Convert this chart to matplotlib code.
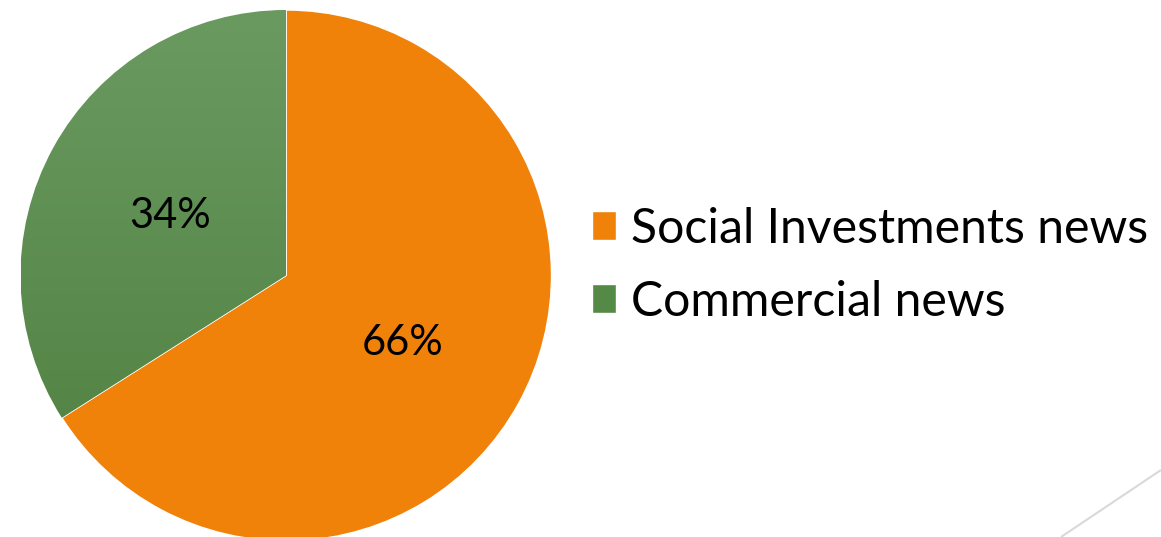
import numpy as np
import matplotlib.pyplot as plt
from matplotlib.colors import LinearSegmentedColormap

labels = ['Social Investments news', 'Commercial news']
shares = [66, 34]
colors = ['#F0820A', '#558A46']

plt.rcParams['font.family'] = ['Lato', 'DejaVu Sans']

W, H = 1161, 537
fig = plt.figure(figsize=(W / 100, H / 100), dpi=100)
ax = fig.add_axes([0, 0, 1, 1])

cx, cy, r = 286, H - 275.5, 265.5
wedges, texts, autotexts = ax.pie(
    shares, colors=colors, startangle=90, counterclock=False,
    center=(cx, cy), radius=r, autopct='%d%%', pctdistance=0.5,
    wedgeprops=dict(edgecolor='white', linewidth=1),
    textprops=dict(fontsize=30, color='black'), frame=True)
ax.set_xlim(0, W)
ax.set_ylim(0, H)
ax.set_aspect('equal')
ax.axis('off')

# vertical gradient on the green slice
green = LinearSegmentedColormap.from_list('g', ['#4E7F3F', '#6A9A60'])
grad = np.linspace(0, 1, 256).reshape(-1, 1)
im = ax.imshow(grad, cmap=green, origin='lower', aspect='auto',
               extent=(cx - r, cx, cy - r, cy + r), zorder=wedges[1].get_zorder() + 0.5)
im.set_clip_path(wedges[1])
for t in autotexts:
    t.set_zorder(5)
    x, y = t.get_position()
    t.set_position((x, y - 4))

ax.legend(wedges, labels, loc='upper left', bbox_to_anchor=(592 / W, 1 - 207 / H),
          bbox_transform=fig.transFigure, frameon=False, fontsize=34.7,
          handlelength=0.5, handleheight=0.55, handletextpad=0.3,
          labelspacing=0.6, borderpad=0, borderaxespad=0)

# thin decorative line in the lower right corner
ax.plot([1061, 1161], [0, 67], color='#D9D9D9', lw=1.5, solid_capstyle='butt')

fig.savefig('out.png', dpi=100)
